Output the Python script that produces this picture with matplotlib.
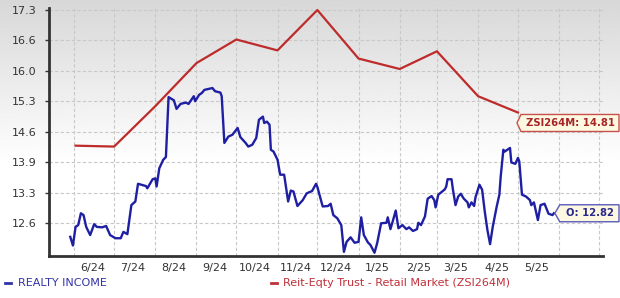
import numpy as np
import pandas as pd
import matplotlib
matplotlib.use("Agg")
import matplotlib.pyplot as plt
import matplotlib.dates as mdates
import matplotlib.transforms as mtransforms
from matplotlib.patches import Polygon
from matplotlib.lines import Line2D

# ---------------- data ----------------
base_date = "2024-06-01"
blue_days = [-3, -1, 1, 3, 5, 7, 9, 12, 15, 17,
             21, 24, 27, 31, 35, 37, 40, 43, 46, 48,
             54, 55, 59, 61, 62, 64, 67, 69, 71, 75,
             77, 80, 84, 86, 90, 91, 94, 96, 98, 101,
             104, 106, 110, 111, 113, 116, 119, 123, 125, 129,
             131, 134, 137, 139, 142, 143, 145, 147, 148, 150,
             153, 155, 158, 161, 163, 165, 168, 172, 175, 179,
             182, 183, 187, 191, 193, 195, 198, 201, 203, 205,
             208, 211, 214, 216, 218, 221, 223, 226, 228, 231,
             235, 236, 238, 240, 242, 244, 247, 250, 252, 255,
             258, 259, 261, 264, 266, 269, 271, 272, 274, 277,
             279, 280, 281, 284, 285, 287, 289, 291, 293, 296,
             297, 299, 301, 302, 305, 307, 309, 311, 313, 315,
             318, 320, 321, 323, 324, 326, 328, 329, 332, 334,
             335, 337, 340, 343, 344, 346, 349, 351, 354, 357,
             360, 361]
blue_vals = [12.30, 12.11, 12.52, 12.56, 12.82, 12.78, 12.52, 12.34, 12.58, 12.52,
             12.51, 12.54, 12.34, 12.27, 12.27, 12.41, 12.36, 13.00, 13.08, 13.47,
             13.42, 13.37, 13.57, 13.59, 13.41, 13.81, 14.00, 14.06, 15.38, 15.31,
             15.12, 15.23, 15.26, 15.23, 15.40, 15.29, 15.43, 15.47, 15.54, 15.56,
             15.58, 15.51, 15.48, 15.40, 14.37, 14.51, 14.55, 14.70, 14.50, 14.37,
             14.29, 14.33, 14.48, 14.88, 14.95, 14.81, 14.84, 14.77, 14.22, 14.18,
             14.00, 13.67, 13.67, 13.08, 13.32, 13.30, 12.98, 13.11, 13.26, 13.31,
             13.47, 13.40, 12.97, 12.98, 13.03, 12.78, 12.71, 12.56, 11.97, 12.19,
             12.29, 12.17, 12.19, 12.73, 12.34, 12.18, 12.12, 11.95, 12.16, 12.60,
             12.61, 12.73, 12.47, 12.67, 12.88, 12.49, 12.56, 12.47, 12.51, 12.43,
             12.47, 12.61, 12.56, 12.75, 13.14, 13.20, 13.11, 12.95, 13.23, 13.30,
             13.35, 13.41, 13.57, 13.57, 13.35, 13.00, 13.19, 13.25, 13.15, 13.06,
             12.95, 13.06, 12.98, 13.17, 13.45, 13.34, 12.86, 12.45, 12.14, 12.52,
             12.97, 13.23, 13.63, 14.22, 14.18, 14.22, 14.26, 13.94, 13.91, 14.04,
             13.96, 13.23, 13.19, 13.11, 13.00, 13.06, 12.67, 13.00, 13.03, 12.81,
             12.78, 12.82]

red_dates = ["2024-06-02", "2024-07-01", "2024-08-01", "2024-09-01", "2024-10-01",
             "2024-11-01", "2024-12-01", "2025-01-01", "2025-02-01", "2025-03-01",
             "2025-04-01", "2025-05-01"]
red_vals = [14.31, 14.29, 15.18, 16.13, 16.65, 16.41, 17.30, 16.23, 16.00, 16.39,
            15.40, 15.04]

blue_name = "REALTY INCOME"
red_name = "Reit-Eqty Trust - Retail Market (ZSI264M)"
blue_tag = ("O", 12.82)
red_tag = ("ZSI264M", 14.81)

y_min_tick, y_max_tick, n_yticks = 12.6, 17.3, 8
x_start, x_end = "2024-05-13", "2025-07-04"
label_months = pd.date_range("2024-06-01", "2025-05-01", freq="MS")

# ---------------- styling ----------------
BLUE = "#1f1fa3"
RED = "#bd2b2b"
BLUE_TXT = "#3333a8"
RED_TXT = "#c0303a"
TXT = "#333333"

W, H, DPI = 620, 298, 100
fig = plt.figure(figsize=(W / DPI, H / DPI), dpi=DPI)

# gradient background
bg = fig.add_axes([0, 0, 1, 1], zorder=-10)
g = np.linspace(0, 1, 300)
shade = np.clip(0.845 + (1 - 0.845) * (g / 0.55), 0, 1)
bg.imshow(shade[:, None], aspect="auto", cmap="gray", vmin=0, vmax=1,
          extent=[0, 1, 0, 1], origin="upper")
bg.set_axis_off()

left, right, bottom, top = 49, 603, 256, 8
ax = fig.add_axes([left / W, (H - bottom) / H, (right - left) / W, (bottom - top) / H])
ax.set_facecolor("none")

bdates = pd.Timestamp(base_date) + pd.to_timedelta(blue_days, unit="D")
rdates = pd.to_datetime(red_dates)

ax.plot(rdates, red_vals, color=RED, lw=1.6, solid_joinstyle="round", zorder=3)
ax.plot(bdates, blue_vals, color=BLUE, lw=1.7, solid_joinstyle="round", zorder=4)

# axes limits
step = (y_max_tick - y_min_tick) / (n_yticks - 1)
yticks = np.linspace(y_min_tick, y_max_tick, n_yticks)
ax.set_ylim(y_min_tick - step * 1.075, y_max_tick + step * 0.066)
ax.set_xlim(pd.Timestamp(x_start), pd.Timestamp(x_end))

ax.set_yticks(yticks)
ax.set_yticklabels([f"{v:.1f}" for v in yticks])
ax.tick_params(axis="y", length=3, width=1, color="#333333", pad=6,
               labelsize=8, labelcolor=TXT)

# gridlines at month starts, labels centred mid-month
ax.xaxis.set_major_locator(mdates.MonthLocator())
ax.xaxis.set_major_formatter(plt.NullFormatter())
mid = label_months + pd.Timedelta(days=14)
ax.set_xticks(mid, minor=True)
ax.set_xticklabels([f"{d.month}/{d.strftime('%y')}" for d in label_months], minor=True)
ax.tick_params(axis="x", which="both", length=0, pad=5, labelsize=8, labelcolor=TXT)

ax.grid(True, which="major", color="#c8c8c8", linestyle=(0, (3, 2)), lw=0.8)
ax.set_axisbelow(True)
for s in ["top", "right"]:
    ax.spines[s].set_visible(False)
ax.spines["left"].set_color("#333333")
ax.spines["left"].set_linewidth(2)
ax.spines["bottom"].set_color("#333333")
ax.spines["bottom"].set_linewidth(2)

# ---------------- tags ----------------
ident = mtransforms.IdentityTransform()
fig.canvas.draw()


def tag(xdate, yval, text, edge, tcolor, box_left_off, tip_dx=0):
    px, py = ax.transData.transform((mdates.date2num(xdate), yval))
    tip_x = px + tip_dx
    h2 = 8.5
    x0 = tip_x + box_left_off
    x1 = 619
    verts = [(tip_x, py), (x0, py + h2), (x1, py + h2), (x1, py - h2), (x0, py - h2)]
    fig.add_artist(Polygon(verts, closed=True, transform=ident, facecolor="#fdf8e2",
                           edgecolor=edge, lw=1.0, zorder=20))
    fig.text((x0 + x1) / 2 + 1, py, text, transform=ident, ha="center", va="center",
             fontsize=7.2, fontweight="bold", color=tcolor, zorder=21)


tag(rdates[-1], red_tag[1], f"{red_tag[0]}: {red_tag[1]:.2f}", "#c8504a", "#a82424", 4, -1)
tag(bdates[-1], blue_tag[1], f"{blue_tag[0]}: {blue_tag[1]:.2f}", "#5a5ab8", "#2a2a8a", 5, 1)

# ---------------- legend ----------------
ly = (H - 283) / H
fig.add_artist(Line2D([5 / W, 11 / W], [ly, ly], color=BLUE_TXT, lw=2))
fig.text(18 / W, ly, blue_name, color=BLUE_TXT, fontsize=8, va="center", ha="left")
fig.add_artist(Line2D([271 / W, 277 / W], [ly, ly], color=RED_TXT, lw=2))
fig.text(283 / W, ly, red_name, color=RED_TXT, fontsize=8, va="center", ha="left")

fig.savefig("out.png", dpi=DPI)
